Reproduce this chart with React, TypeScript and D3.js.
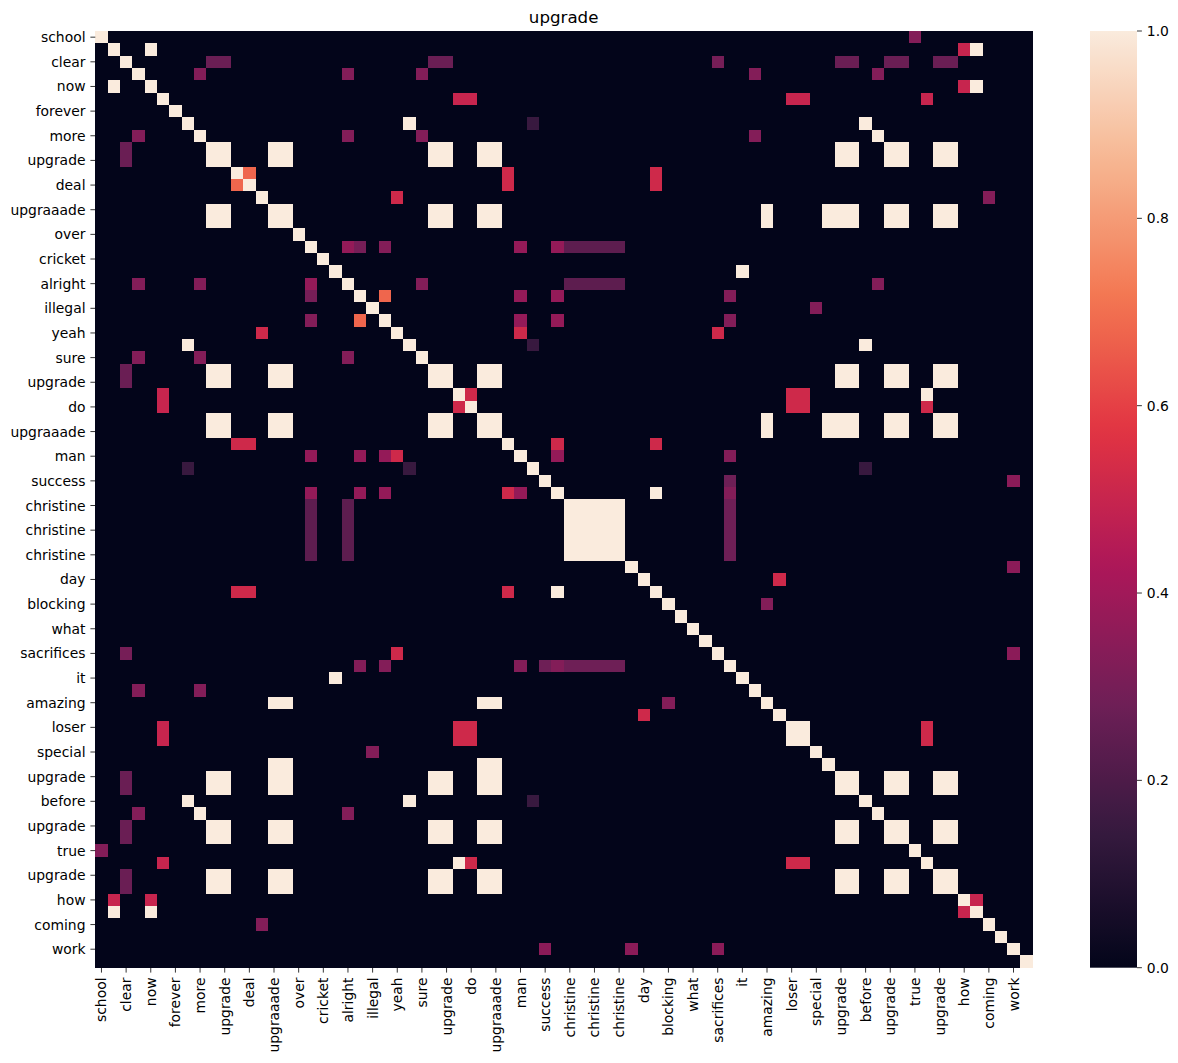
import React from "react";
import * as d3 from "d3";

// ---------- data ----------
const words: string[] = [
  "school", "now", "clear", "not", "now", "to", "forever", "before", "more", "upgrade",
  "upgrade", "ideal", "deal", "come", "upgraaade", "upgraaade", "over", "ok", "cricket", "it",
  "alright", "legal", "illegal", "legally", "yeah", "before", "sure", "upgrade", "upgrade", "to",
  "do", "upgraaade", "upgraaade", "dear", "man", "beforehand", "success", "ideal", "christine", "christine",
  "christine", "christine", "christine", "working", "day", "ideal", "blocking", "who", "what", "when",
  "sacrifices", "hey", "it", "nor", "amazing", "days", "loser", "loser", "special", "upgraaaade",
  "upgrade", "upgrade", "before", "more", "upgrade", "upgrade", "true", "to", "upgrade", "upgrade",
  "how", "now", "coming", "get", "work", "done",
];

// groups of tokens whose similarity is 1.0 with each other
const identicalGroups: number[][] = [
  [9, 10, 27, 28, 60, 61, 64, 65, 68, 69, 14, 15, 31, 32],
  [14, 15, 31, 32, 54],
  [14, 15, 31, 32, 59],
  [1, 4, 71],
  [7, 25, 62],
  [8, 63],
  [19, 52],
  [29, 67],
  [37, 45],
  [38, 39, 40, 41, 42],
  [56, 57],
];

// partial similarities [row, col, value] (mirrored)
const pairScores: [number, number, number][] = [
  [0, 66, 0.33],
  [1, 70, 0.5], [4, 70, 0.5], [70, 71, 0.5],
  [2, 9, 0.27], [2, 10, 0.27], [2, 27, 0.27], [2, 28, 0.27], [2, 50, 0.3],
  [2, 60, 0.27], [2, 61, 0.27], [2, 64, 0.27], [2, 65, 0.27], [2, 68, 0.27], [2, 69, 0.27],
  [3, 8, 0.33], [3, 20, 0.33], [3, 26, 0.33], [3, 53, 0.33], [3, 63, 0.33],
  [5, 29, 0.5], [5, 30, 0.5], [5, 56, 0.5], [5, 57, 0.5], [5, 67, 0.5],
  [7, 35, 0.15], [25, 35, 0.15], [35, 62, 0.15],
  [8, 20, 0.33], [8, 26, 0.33], [8, 53, 0.33],
  [11, 12, 0.68], [11, 33, 0.52], [12, 33, 0.52], [11, 45, 0.52], [12, 45, 0.52],
  [13, 24, 0.52], [13, 72, 0.33],
  [17, 20, 0.37], [17, 21, 0.3], [17, 23, 0.33], [17, 34, 0.37], [17, 37, 0.37],
  [17, 38, 0.24], [17, 39, 0.24], [17, 40, 0.24], [17, 41, 0.24], [17, 42, 0.24],
  [20, 26, 0.33], [20, 63, 0.33],
  [20, 38, 0.24], [20, 39, 0.24], [20, 40, 0.24], [20, 41, 0.24], [20, 42, 0.24],
  [21, 23, 0.68], [21, 34, 0.37], [21, 37, 0.37], [21, 51, 0.33],
  [22, 58, 0.33],
  [23, 34, 0.37], [23, 37, 0.37], [23, 51, 0.33],
  [24, 34, 0.52], [24, 50, 0.52],
  [29, 30, 0.52], [29, 56, 0.52], [29, 57, 0.52], [30, 56, 0.52], [30, 57, 0.52], [30, 67, 0.52],
  [33, 37, 0.52], [33, 45, 0.52],
  [34, 37, 0.37], [34, 51, 0.33],
  [36, 51, 0.28], [36, 74, 0.35],
  [37, 51, 0.33],
  [38, 51, 0.28], [39, 51, 0.28], [40, 51, 0.28], [41, 51, 0.28], [42, 51, 0.28],
  [43, 74, 0.35],
  [44, 55, 0.52],
  [46, 54, 0.33],
  [50, 74, 0.35],
  [56, 67, 0.52], [57, 67, 0.52],
];

const colorbarTicks: number[] = [0, 0.2, 0.4, 0.6, 0.8, 1.0];

// rocket colormap stops
const rocketStops: number[] = [0, 1 / 7, 2 / 7, 3 / 7, 4 / 7, 5 / 7, 6 / 7, 1];
const rocketColors: string[] = [
  "#03051a", "#35193e", "#701f57", "#ad1759", "#e13342", "#f37651", "#f6b48f", "#faebdd",
];

const title = "upgrade";

// ---------- build matrix ----------
const N = words.length;
function buildMatrix(): number[][] {
  const m: number[][] = d3.range(N).map(() => d3.range(N).map(() => 0));
  for (let i = 0; i < N; i++) m[i][i] = 1;
  identicalGroups.forEach((g) => {
    g.forEach((a) => g.forEach((b) => { m[a][b] = 1; }));
  });
  pairScores.forEach(([a, b, v]) => { m[a][b] = v; m[b][a] = v; });
  return m;
}

export default function App() {
  const matrix = buildMatrix();
  const left = 95.3, top = 31, size = 936.7;
  const x = d3.scaleBand<number>().domain(d3.range(N)).range([left, left + size]);
  const y = d3.scaleBand<number>().domain(d3.range(N)).range([top, top + size]);
  const color = d3.scaleLinear<string>().domain(rocketStops).range(rocketColors)
    .interpolate(d3.interpolateRgb).clamp(true);

  const cbLeft = 1090, cbW = 47;
  const cbY = d3.scaleLinear().domain([0, 1]).range([top + size, top]);
  const font = "'DejaVu Sans', sans-serif";
  const fs = 13.9;
  const tickLen = 4.9, pad = 4.9;
  const labeled = d3.range(0, N, 2);

  const gradStops = d3.range(0, 1.0001, 0.02);

  return (
    <svg width={1178} height={1063} style={{ position: "absolute", left: 0, top: 0, background: "#fff" }}
      fontFamily={font}>
      <defs>
        <linearGradient id="cbgrad" x1="0" y1="1" x2="0" y2="0">
          {gradStops.map((t) => (
            <stop key={t} offset={t} stopColor={color(t)} />
          ))}
        </linearGradient>
      </defs>
      <rect x={0} y={0} width={1178} height={1063} fill="#fff" />
      <g shapeRendering="crispEdges">
        {matrix.map((row, i) =>
          row.map((v, j) => (
            <rect key={i + "-" + j} x={x(j)} y={y(i)} width={x.bandwidth() + 0.5}
              height={y.bandwidth() + 0.5} fill={color(v)} />
          ))
        )}
      </g>
      {/* y axis */}
      <g>
        {labeled.map((i) => {
          const cy = (y(i) as number) + y.bandwidth() / 2;
          return (
            <g key={"y" + i}>
              <line x1={left - tickLen} x2={left} y1={cy} y2={cy} stroke="#000" strokeWidth={0.8} />
              <text x={left - tickLen - pad} y={cy} textAnchor="end" dominantBaseline="central"
                fontSize={fs} fill="#000">{words[i]}</text>
            </g>
          );
        })}
      </g>
      {/* x axis */}
      <g>
        {labeled.map((j) => {
          const cx = (x(j) as number) + x.bandwidth() / 2;
          const by = top + size;
          return (
            <g key={"x" + j}>
              <line x1={cx} x2={cx} y1={by} y2={by + tickLen} stroke="#000" strokeWidth={0.8} />
              <text transform={`translate(${cx},${by + tickLen + pad}) rotate(-90)`} textAnchor="end"
                dominantBaseline="central" fontSize={fs} fill="#000">{words[j]}</text>
            </g>
          );
        })}
      </g>
      <text x={left + size / 2} y={top - 8.3} textAnchor="middle" fontSize={16.67} fill="#000">{title}</text>
      {/* colorbar */}
      <rect x={cbLeft} y={top} width={cbW} height={size} fill="url(#cbgrad)" />
      {colorbarTicks.map((t) => (
        <g key={"c" + t}>
          <line x1={cbLeft + cbW} x2={cbLeft + cbW + tickLen} y1={cbY(t)} y2={cbY(t)} stroke="#000" strokeWidth={0.8} />
          <text x={cbLeft + cbW + tickLen + pad} y={cbY(t)} dominantBaseline="central" fontSize={fs} fill="#000">
            {t.toFixed(1)}
          </text>
        </g>
      ))}
    </svg>
  );
}
